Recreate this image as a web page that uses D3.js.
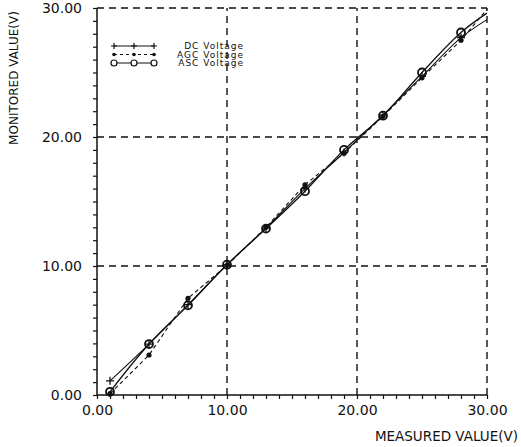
<!DOCTYPE html>
<html>
<head>
<meta charset="utf-8">
<script src="https://cdn.jsdelivr.net/npm/d3@7"></script>
<style>
  body { margin: 0; background: #fff; }
  text { font-family: "DejaVu Sans", sans-serif; fill: #111; }
</style>
</head>
<body>
<div id="chart"></div>
<script>
// Data
var measured   = [1, 4, 7, 10, 13, 16, 19, 22, 25, 28, 30];
var dcVoltage  = [1.1, 3.95, 7.0, 10.1, 12.95, 16.0, 18.8, 21.7, 24.7, 27.7, 29.1];
var agcVoltage = [0.1, 3.1, 7.5, 10.05, 13.0, 16.3, 18.75, 21.6, 24.6, 27.5, 29.9];
var ascVoltage = [0.25, 3.95, 6.95, 10.1, 12.9, 15.8, 19.0, 21.65, 25.0, 28.1, 29.6];
var gridValues = [10, 20, 30];
var legendLabels = ["DC Voltage", "AGC Voltage", "ASC Voltage"];

var svgWidth = 521;
var svgHeight = 447;

var margin = { top: 8, right: 34, bottom: 52, left: 97 };
var chartWidth = svgWidth - margin.left - margin.right;   // 390
var chartHeight = svgHeight - margin.top - margin.bottom; // 387

var svg = d3.select("#chart")
  .append("svg")
  .attr("width", svgWidth)
  .attr("height", svgHeight);

var chartGroup = svg.append("g")
  .attr("transform", `translate(${margin.left}, ${margin.top})`);

var xScale = d3.scaleLinear().domain([0, 30]).range([0, chartWidth]);
var yScale = d3.scaleLinear().domain([0, 30]).range([chartHeight, 0]);

// dashed grid (including top and right border)
chartGroup.selectAll(".vgrid")
  .data(gridValues)
  .enter()
  .append("line")
  .attr("x1", d => xScale(d)).attr("x2", d => xScale(d))
  .attr("y1", yScale(0)).attr("y2", yScale(30))
  .attr("stroke", "#111")
  .attr("stroke-width", 1.4)
  .attr("stroke-dasharray", "7,5");

chartGroup.selectAll(".hgrid")
  .data(gridValues)
  .enter()
  .append("line")
  .attr("x1", xScale(0)).attr("x2", xScale(30))
  .attr("y1", d => yScale(d)).attr("y2", d => yScale(d))
  .attr("stroke", "#111")
  .attr("stroke-width", 1.4)
  .attr("stroke-dasharray", "7,5");

var fmt = d3.format(".2f");
var tickFormat = d => (d % 10 === 0 ? fmt(d) : "");

var bottomAxis = d3.axisBottom(xScale).tickValues(d3.range(0, 31)).tickSize(4).tickFormat(tickFormat);
var leftAxis = d3.axisLeft(yScale).tickValues(d3.range(0, 31)).tickSize(4).tickFormat(tickFormat);

var xAxisG = chartGroup.append("g")
  .attr("transform", `translate(0, ${chartHeight})`)
  .call(bottomAxis);
var yAxisG = chartGroup.append("g")
  .call(leftAxis);

[xAxisG, yAxisG].forEach(function(g) {
  g.select(".domain").remove();
  g.selectAll("line").attr("stroke", "#111").attr("stroke-width", 1.2);
  g.selectAll("text").style("font-size", "14px").attr("fill", "#111");
});
xAxisG.selectAll("text").attr("y", 10).attr("dy", "0.71em");
yAxisG.selectAll("text").attr("x", -15);

// solid axis lines
chartGroup.append("line")
  .attr("x1", 0).attr("x2", xScale(30))
  .attr("y1", chartHeight).attr("y2", chartHeight)
  .attr("stroke", "#111").attr("stroke-width", 1.5);
chartGroup.append("line")
  .attr("x1", 0).attr("x2", 0)
  .attr("y1", 0).attr("y2", chartHeight)
  .attr("stroke", "#111").attr("stroke-width", 1.5);

// axis titles
svg.append("text")
  .attr("x", 518)
  .attr("y", 441)
  .style("text-anchor", "end")
  .style("font-size", "13.5px")
  .text("MEASURED VALUE(V)");

svg.append("text")
  .attr("transform", "translate(18, 78) rotate(-90)")
  .style("text-anchor", "middle")
  .style("font-size", "12px")
  .text("MONITORED VALUE(V)");

// series
var dcData = measured.map((x, i) => ({ x: x, y: dcVoltage[i] }));
var agcData = measured.map((x, i) => ({ x: x, y: agcVoltage[i] }));
var ascData = measured.map((x, i) => ({ x: x, y: ascVoltage[i] }));

var smoothLine = d3.line()
  .x(d => xScale(d.x))
  .y(d => yScale(d.y))
  .curve(d3.curveCatmullRom.alpha(0.5));

var straightLine = d3.line()
  .x(d => xScale(d.x))
  .y(d => yScale(d.y));

chartGroup.append("path")
  .datum(dcData)
  .attr("d", smoothLine)
  .attr("fill", "none")
  .attr("stroke", "#111")
  .attr("stroke-width", 1.1);

chartGroup.append("path")
  .datum(ascData)
  .attr("d", smoothLine)
  .attr("fill", "none")
  .attr("stroke", "#111")
  .attr("stroke-width", 1.3);

chartGroup.append("path")
  .datum(agcData)
  .attr("d", straightLine)
  .attr("fill", "none")
  .attr("stroke", "#111")
  .attr("stroke-width", 1.1)
  .attr("stroke-dasharray", "4,3");

// markers (last point has none)
chartGroup.selectAll(".dc-mark")
  .data(dcData.slice(0, -1))
  .enter()
  .append("path")
  .attr("transform", d => `translate(${xScale(d.x)}, ${yScale(d.y)})`)
  .attr("d", "M-4,0H4M0,-4V4")
  .attr("stroke", "#111")
  .attr("stroke-width", 1.3);

chartGroup.selectAll(".agc-mark")
  .data(agcData.slice(0, -1))
  .enter()
  .append("circle")
  .attr("cx", d => xScale(d.x))
  .attr("cy", d => yScale(d.y))
  .attr("r", 2.6)
  .attr("fill", "#111");

chartGroup.selectAll(".asc-mark")
  .data(ascData.slice(0, -1))
  .enter()
  .append("circle")
  .attr("cx", d => xScale(d.x))
  .attr("cy", d => yScale(d.y))
  .attr("r", 4)
  .attr("fill", "none")
  .attr("stroke", "#111")
  .attr("stroke-width", 1.8);

// legend
var legendX = [114, 134, 154];
var legendY = [46, 54.5, 63];

legendY.forEach(function(ly, row) {
  svg.append("line")
    .attr("x1", legendX[0]).attr("x2", legendX[2])
    .attr("y1", ly).attr("y2", ly)
    .attr("stroke", "#111")
    .attr("stroke-width", 1)
    .attr("stroke-dasharray", row === 1 ? "3,3" : null);
  legendX.forEach(function(lx) {
    if (row === 0) {
      svg.append("path")
        .attr("transform", `translate(${lx}, ${ly})`)
        .attr("d", "M-3,0H3M0,-3V3")
        .attr("stroke", "#111").attr("stroke-width", 1.2);
    } else if (row === 1) {
      svg.append("circle").attr("cx", lx).attr("cy", ly).attr("r", 1.8).attr("fill", "#111");
    } else {
      svg.append("circle").attr("cx", lx).attr("cy", ly).attr("r", 3)
        .attr("fill", "#fff").attr("stroke", "#111").attr("stroke-width", 1.2);
    }
  });
  svg.append("text")
    .attr("x", 244)
    .attr("y", ly)
    .attr("dy", "0.35em")
    .style("text-anchor", "end")
    .style("font-size", "9px")
    .style("letter-spacing", "1px")
    .text(legendLabels[row]);
});
</script>
</body>
</html>
